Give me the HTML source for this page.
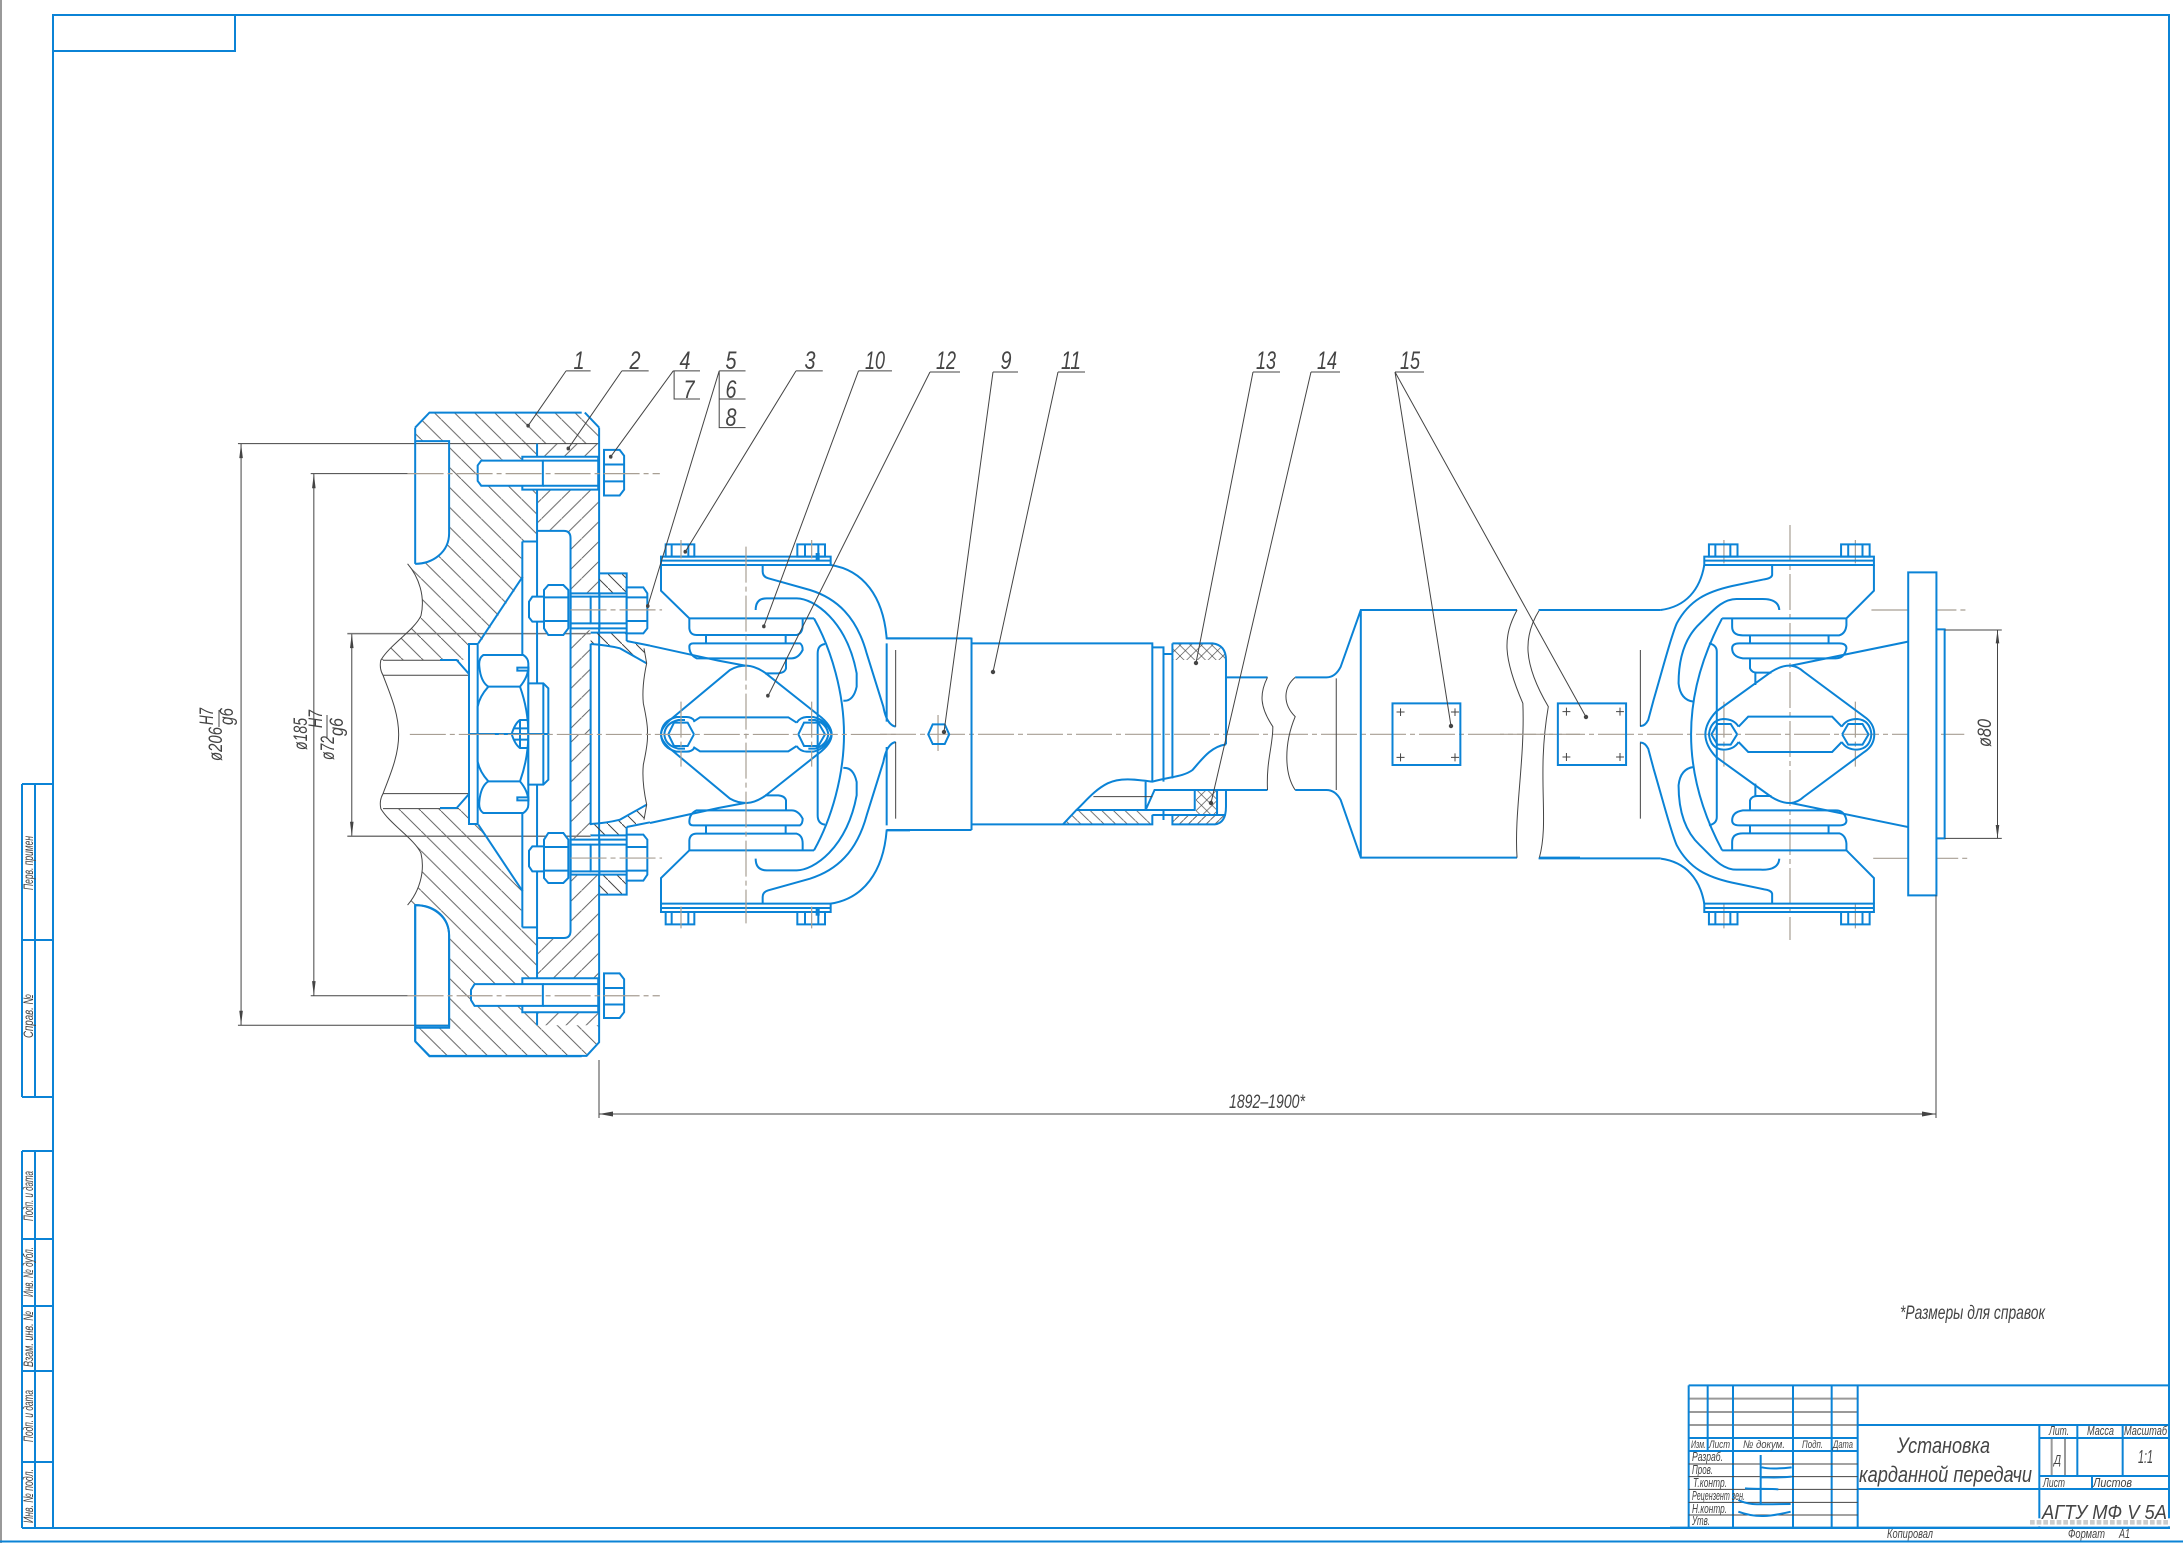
<!DOCTYPE html>
<html><head><meta charset="utf-8"><style>
html,body{margin:0;padding:0;background:#fff}
svg{display:block}
.b{stroke:#0b83d6;stroke-width:2;fill:none;vector-effect:non-scaling-stroke}
.w{stroke:#0b83d6;stroke-width:2;fill:#fff;vector-effect:non-scaling-stroke}
.k{stroke:#444;stroke-width:1;fill:none;vector-effect:non-scaling-stroke}
.g{stroke:#999;stroke-width:2;fill:none;vector-effect:non-scaling-stroke}
.m{stroke:#777;stroke-width:1.6;fill:none;vector-effect:non-scaling-stroke}
.c{stroke:#a89f94;stroke-width:1.2;fill:none;stroke-dasharray:36 4 5 4;vector-effect:non-scaling-stroke}
.d{fill:#444;stroke:none}
text{font-family:"Liberation Sans","Noto Sans CJK JP",sans-serif;font-style:italic;fill:#444}
</style></head><body>
<svg width="2183" height="1543" viewBox="0 0 2183 1543" xmlns="http://www.w3.org/2000/svg">
<defs>
<pattern id="a" width="45" height="41" patternUnits="userSpaceOnUse"><path d="M-4.5,-4.1L49.5,45.1" stroke="#555" stroke-width="2"/></pattern>
<pattern id="b" width="45" height="41" patternUnits="userSpaceOnUse"><path d="M-4.5,45.1L49.5,-4.1" stroke="#555" stroke-width="2"/></pattern>
<pattern id="a3" width="42" height="42" patternUnits="userSpaceOnUse"><path d="M-4,-4L46,46" stroke="#444" stroke-width="3"/></pattern>
<pattern id="b3" width="42" height="42" patternUnits="userSpaceOnUse"><path d="M-4,46L46,-4" stroke="#444" stroke-width="3"/></pattern>
<pattern id="a2" width="26" height="34" patternUnits="userSpaceOnUse"><path d="M-2.6,-3.4L28.6,37.4" stroke="#444" stroke-width="2"/></pattern>
<pattern id="b2" width="20" height="26" patternUnits="userSpaceOnUse"><path d="M-2,28.6L22,-2.6" stroke="#444" stroke-width="2"/></pattern>
<pattern id="x2" width="24" height="32" patternUnits="userSpaceOnUse"><path d="M-2.4,-3.2L26.4,35.2M-2.4,35.2L26.4,-3.2" stroke="#444" stroke-width="1.6"/></pattern>
<path id="pA" d="M482,222 L514,191 H862 L894,222 V255 H755 V285 H722 V350 H755 V455 H722 V535 L625,670 L605,670 V700 L575,702 H406 C425,670 480,640 495,610 C505,570 490,530 465,503 H482 C520,503 558,480 558,440 V250 H482 Z"/>
<path id="pB" d="M755,255 H894 V285 H755 Z M755,345 H894 V565 H830 V450 Q830,435 815,435 H755 Z M830,640 H875 V855 H830 Z"/>
<path id="pW" d="M478,40 H560 V100 H478 Z M452,218 H560 V243 L610,255 L620,310 L540,265 Q500,255 452,252 Z"/>
<g id="h1">
<path class="b" d="M482,222 L514,191 H855 M482,222 V503 M482,250 H558 V440 C558,480 520,503 482,503"/>
<path class="b" d="M755,255 V855 M722,457 H755 M722,457 V855 M815,435 Q830,435 830,450 V855 M755,435 H815 M875,668 V855"/>
<path class="k" d="M465,503 C490,530 505,570 495,610 C480,640 425,670 405,702 C402,715 405,725 410,733 C425,770 445,810 445,855"/>
<path class="k" d="M410,702 H580 M410,733 H604"/>
</g>
<g id="h6">
<path class="b" d="M248,50 L115,250"/>
<path class="w" d="M87,252 H113 V522 H87 Z"/>
<path class="b" d="M0,300 H50 L87,342"/>
<path class="w" d="M113,522 V440 Q118,410 145,380 Q122,365 118,320 Q115,295 130,285 H250 Q265,295 265,310 V522 Z"/>
<path class="b" d="M145,380 H240 Q265,350 265,320 M240,380 Q265,450 265,522"/>
<path class="w" d="M232,323 H265 V332 H232 Z"/>
<path class="w" d="M265,370 H310 L325,385 V522 H265 Z"/>
<path class="b" d="M310,370 V522"/>
<path class="b" d="M265,480 H240 Q225,490 215,522 M222,505 H265 M240,480 V522"/>
<path class="w" d="M392,100 H478 V205 H392 Z"/>
<path class="w" d="M452,110 H560 V190 H452 Z"/>
<path class="b" d="M392,110 H452 M392,190 H452 M478,40 H560 V100 H478 V205 M478,205 H560 M452,218 H560"/>
<path class="w" d="M267,125 L277,110 H312 V185 H277 L267,172 Z"/>
<path class="w" d="M312,90 L325,75 H370 L385,90 V205 L370,225 H325 L312,205 Z"/>
<path class="b" d="M312,112 H385 M312,183 H385"/>
<path class="w" d="M560,82 H610 L622,100 V205 L610,220 H560 Z"/>
<path class="b" d="M560,112 H622 M560,183 H622"/>
<path class="b" d="M452,252 Q500,255 540,265 L620,310 M560,218 V243"/>
<path class="k" d="M612,265 L620,310 Q605,380 610,430 Q625,500 622,522"/>
<path class="b" d="M560,243 L630,257"/>
</g>
<g id="h7">
<path class="b" d="M33,80 H542 V105 H33 Z M33,92 H542"/>
<path class="b" d="M47,43 H133 V80 H47 Z M65,43 V80 M115,43 V80 M442,43 H525 V80 H442 Z M465,43 V80 M505,43 V80"/>
<path class="b" d="M500,72 H506 V88 H500 Z"/>
<path class="b" d="M33,105 V182 L118,265 H492 M118,265 V295 Q120,315 140,315 H440 Q458,310 458,285 V265 M168,315 V340 M407,315 V340 M130,340 H450 Q458,345 458,360 Q445,385 425,385 H140 Q118,375 118,350 Q118,340 130,340 M408,385 V415 Q405,428 385,430 H345"/>
<path class="b" d="M0,347 L205,392 L285,407"/>
<path class="b" d="M33,613 Q33,595 60,570 L240,420 Q262,407 290,407 Q315,408 345,428 L505,555 Q545,585 545,613"/>
<path class="b" d="M55,613 L72,578 H113 L132,613 M445,613 L462,578 H505 L525,613 M130,575 L150,562 H415 L440,578"/>
<path class="b" d="M33,613 Q35,572 80,561 H110 Q125,561 133,572 M43,613 Q45,580 85,570 H105 M440,578 Q450,562 470,561 H490 Q530,570 545,613 M535,613 Q530,580 495,570 H475"/>
<path class="b" d="M492,265 C545,360 582,490 582,613"/>
<path class="b" d="M525,342 Q503,345 503,370 V613"/>
<path class="b" d="M338,105 V125 Q338,140 355,145 L480,180 C560,205 620,260 650,370 L700,530 Q710,585 737,590 M542,105 C640,120 700,200 710,325 H780 M710,340 V575"/>
<path class="b" d="M317,240 Q317,205 350,205 H440 C490,205 590,270 620,430 V470 Q610,515 580,512"/>
<path class="k" d="M737,360 V590"/>
</g>
<g id="h3">
<path class="b" d="M572,110 H1047 V135 H572 Z M572,122 H1047"/>
<path class="b" d="M585,73 H665 V110 H585 Z M603,73 V110 M645,73 V110 M955,73 H1035 V110 H955 Z M975,73 V110 M1015,73 V110"/>
<path class="b" d="M1047,135 V212 L970,295 H622 M650,295 V320 Q650,346 680,346 H950 Q968,340 970,315 V295 M700,346 V370 M920,346 V370 M670,370 H950 Q970,370 970,385 Q965,415 940,415 H680 Q650,410 650,385 Q650,370 670,370 M700,415 V445 Q705,458 720,458 H760 M715,458 V495"/>
<path class="b" d="M622,295 C570,400 535,520 535,643"/>
<path class="b" d="M762,135 V165 Q760,175 740,178 L650,198 C580,215 530,240 495,310 C480,345 460,430 430,540 L415,600 Q405,620 392,618 M572,135 C560,210 520,260 450,270"/>
<path class="b" d="M782,270 Q780,235 730,237 H665 C620,235 590,280 560,310 C520,350 500,410 500,490 Q505,540 542,545"/>
<path class="b" d="M585,370 Q607,375 607,395 V643"/>
<path class="b" d="M575,643 Q575,610 605,575 L760,455 Q790,435 815,437 Q835,440 850,455 L1020,590 Q1048,610 1048,643"/>
<path class="b" d="M815,437 L1142,365"/>
<path class="b" d="M668,620 L695,590 H930 L957,620 M592,643 L609,612 H646 L664,643 M958,643 L975,612 H1015 L1032,643"/>
<path class="b" d="M585,643 Q590,600 625,597 Q655,597 668,620 M957,620 Q970,597 1000,597 Q1036,600 1040,643"/>
<path class="k" d="M393,390 V618"/>
</g>
</defs>

<!-- frames -->
<rect x="0" y="0" width="2" height="1543" fill="#999"/>
<path class="b" d="M53,15 H2169 V1528 H53 Z M53,51 H235 V15 M0,1541.5 H2183"/>
<path class="b" d="M22,784 H53 M22,940 H53 M22,1097 H53 M22,784 V1097 M35,784 V1097"/>
<path class="b" d="M22,1151 H53 M22,1239 H53 M22,1306 H53 M22,1371 H53 M22,1462 H53 M22,1528 H53 M22,1151 V1528 M35,1151 V1528"/>
<g font-size="14">
<text transform="translate(33 863) rotate(-90)" text-anchor="middle" textLength="54" lengthAdjust="spacingAndGlyphs">Перв. примен</text>
<text transform="translate(33 1016) rotate(-90)" text-anchor="middle" textLength="44" lengthAdjust="spacingAndGlyphs">Справ. №</text>
<text transform="translate(33 1196) rotate(-90)" text-anchor="middle" textLength="50" lengthAdjust="spacingAndGlyphs">Подп. и дата</text>
<text transform="translate(33 1272) rotate(-90)" text-anchor="middle" textLength="50" lengthAdjust="spacingAndGlyphs">Инв. № дубл.</text>
<text transform="translate(33 1339) rotate(-90)" text-anchor="middle" textLength="56" lengthAdjust="spacingAndGlyphs">Взам. инв. №</text>
<text transform="translate(33 1416) rotate(-90)" text-anchor="middle" textLength="52" lengthAdjust="spacingAndGlyphs">Подп. и дата</text>
<text transform="translate(33 1496) rotate(-90)" text-anchor="middle" textLength="54" lengthAdjust="spacingAndGlyphs">Инв. № подл.</text>
</g>

<!-- left part -->
<g transform="translate(200 320) scale(.44643 .48473)">
<use href="#pA" fill="url(#a)"/><use href="#pB" fill="url(#b)"/>
<g transform="translate(0 1710) scale(1 -1)"><use href="#pA" fill="url(#b)"/><use href="#pB" fill="url(#a)"/></g>
<path class="k" d="M85,255 H894 M92,255 V1455 M85,1455 H558 M248,317 H465 M255,317 V1394 M248,1394 H465 M340,647 V1065"/>
<path class="m" d="M330,647 H875 M330,1065 H875"/>
<path class="d" d="M92,255 L88,285 H96 Z M92,1455 L88,1425 H96 Z M255,317 L251,347 H259 Z M255,1394 L251,1364 H259 Z M340,647 L336,677 H344 Z M340,1065 L336,1035 H344 Z"/>
<path class="b" d="M894,222 V1490 L866,1518 H514 L482,1488 V1207 C530,1207 558,1235 558,1270 V1456 H482 M862,191 L894,222"/>
<use href="#h1"/>
<g transform="translate(0 1710) scale(1 -1)"><use href="#h1"/></g>
<!-- top bolt -->
<path class="w" d="M722,282 H892 V350 H722 Z"/>
<path class="w" d="M622,300 L630,290 H768 V342 H630 L622,332 Z"/>
<path class="b" d="M768,290 H892 M768,342 H892"/>
<path class="w" d="M905,268 H940 L950,280 V350 L940,362 H905 Z"/>
<path class="b" d="M905,298 H950 M905,333 H950"/>
<!-- bottom bolt -->
<path class="w" d="M722,1358 H892 V1428 H722 Z"/>
<path class="w" d="M607,1382 L615,1370 H768 V1415 H615 L607,1403 Z"/>
<path class="b" d="M768,1370 H892 M768,1415 H892"/>
<path class="w" d="M905,1348 H940 L950,1360 V1428 L940,1440 H905 Z"/>
<path class="b" d="M905,1378 H950 M905,1412 H950"/>
</g>

<g transform="translate(440 560) scale(.33333)">
<use href="#pW" fill="url(#a3)"/>
<g transform="translate(0 1044) scale(1 -1)"><use href="#pW" fill="url(#b3)"/></g>
<use href="#h6"/>
<g transform="translate(0 1044) scale(1 -1)"><use href="#h6"/></g>
</g>

<g transform="translate(650 530) scale(.33333)">
<use href="#h7"/>
<g transform="translate(0 1226) scale(1 -1)"><use href="#h7"/></g>
<path class="c" d="M288,50 V1180 M93,30 V85 M93,515 V710 M93,1130 V1195 M485,30 V85 M485,515 V710 M485,1130 V1195"/>
</g>

<!-- leaders in zoom coordinates -->
<g transform="translate(200 320) scale(.44643 .48473)">
<path class="c" d="M470,855 H1568 M465,317 H1030 M830,598 H1035 M830,1110 H1035 M465,1394 H1030"/>
<path class="k" d="M820,105 H875 M820,105 L735,218 M945,105 H1005 M945,105 L825,265 M1060,105 H1120 M1060,105 L920,282 M1062,105 V163 H1120 M1163,105 H1222 M1163,105 L1003,590 M1163,105 V222 H1222 M1163,163 H1222 M1335,105 H1395 M1335,105 L1087,478 M1475,105 H1550 M1475,105 L1263,632"/>
<ellipse class="d" cx="735" cy="218" rx="4" ry="4"/><ellipse class="d" cx="825" cy="265" rx="4" ry="4"/><ellipse class="d" cx="920" cy="282" rx="4" ry="4"/><ellipse class="d" cx="1003" cy="590" rx="4" ry="4"/><ellipse class="d" cx="1087" cy="478" rx="4" ry="4"/><ellipse class="d" cx="1263" cy="632" rx="4" ry="4"/><ellipse class="d" cx="1272" cy="775" rx="4" ry="4"/>
</g>

<!-- middle -->
<g transform="translate(880 560) scale(.44643 .33333)">
<path fill="url(#a2)" d="M410,793 L440,750 H595 L610,765 H610 V793 Z"/>
<path fill="url(#b2)" d="M655,765 H775 V740 Q775,790 750,793 H655 Z"/>
<path fill="url(#x2)" d="M655,250 H745 Q770,255 775,300 H655 Z M708,690 H755 V765 H708 Z"/>
<path class="c" d="M0,523 H1568 M130,465 V585"/>
<path class="b" d="M15,235 H205 M15,810 H205 M205,233 V810 M205,250 H610 V665 M205,793 H610 V765 M610,262 H635 V665 M635,282 H655 M655,250 V655 M655,250 H745 Q775,255 775,300 V553"/>
<path class="b" d="M108,523 L118,493 H145 L155,523 L145,552 H118 Z"/>
<path class="b" d="M775,553 C740,560 720,600 700,630 C680,650 650,650 610,665 C580,660 540,650 510,670 C480,690 460,725 440,750 L410,793"/>
<path class="b" d="M440,750 H705 V690 M595,665 V750 L615,690 H868 M755,690 V765 M610,765 H775 M635,750 V780 M655,765 V793 H750 Q775,790 775,740 V690 M775,352 H868"/>
<path class="k" d="M478,710 H610"/>
<path class="k" d="M868,352 C850,400 850,440 880,500 C880,560 865,600 868,690 M1022,355 V690 M930,352 C905,380 900,430 930,470 C905,550 905,640 930,690"/>
<path class="b" d="M930,352 H1000 Q1020,352 1032,320 L1077,150 H1427 M930,690 H1000 Q1020,690 1032,720 L1077,893 H1427 M1077,150 V893 M1477,150 H1568 M1477,893 H1568"/>
<path class="k" d="M1427,150 C1395,230 1395,290 1440,430 C1445,600 1420,760 1427,893 M1477,150 C1440,230 1440,310 1497,440 C1470,650 1500,780 1477,893"/>
<path class="b" d="M1148,430 H1300 V615 H1148 Z"/>
<path class="k" d="M1157,456 H1175 M1166,445 V468 M1279,456 H1297 M1288,445 V468 M1157,592 H1175 M1166,580 V604 M1279,592 H1297 M1288,580 V604"/>
</g>

<!-- right joint -->
<g transform="translate(1500 520) scale(.35714 .33333)">
<path class="c" d="M0,643 H1300 M812,15 V1260 M627,60 V130 M627,545 V740 M627,1150 V1225 M995,60 V130 M995,545 V740 M995,1150 V1225 M1040,270 H1310 M1045,1015 H1310"/>
<path class="b" d="M162,550 H353 V735 H162 Z M108,270 H450 M108,1015 H450"/>
<path class="k" d="M175,575 H197 M186,563 V587 M325,575 H347 M336,563 V587 M175,711 H197 M186,699 V723 M325,711 H347 M336,699 V723"/>
<use href="#h3"/>
<g transform="translate(0 1286) scale(1 -1)"><use href="#h3"/></g>
<path class="w" d="M1143,157 H1222 V1126 H1143 Z"/>
<path class="b" d="M1222,328 H1245 V955 H1222"/>
<path class="k" d="M1245,330 H1405 M1245,955 H1405 M1393,330 V955"/>
<path class="d" d="M1393,330 L1388,370 H1398 Z M1393,955 L1388,915 H1398 Z"/>
</g>

<!-- long leaders and dims -->
<path class="k" d="M930,372 H960 M930,372 L768,696 M993,372 H1018 M993,372 L944,732 M1058,372 H1085 M1058,372 L993,672 M1253,372 H1280 M1253,372 L1196,663 M1311,372 H1340 M1311,372 L1211,803 M1395,372 H1424 M1395,372 L1451,726 M1395,372 L1586,717"/>
<circle class="d" cx="944" cy="732" r="2.2"/><circle class="d" cx="993" cy="672" r="2.2"/><circle class="d" cx="1196" cy="663" r="2.2"/><circle class="d" cx="1211" cy="803" r="2.2"/><circle class="d" cx="1451" cy="726" r="2.2"/><circle class="d" cx="1586" cy="717" r="2.2"/>
<path class="k" d="M599,1060 V1118 M1936,895 V1118 M599,1114 H1936"/>
<path class="d" d="M599,1114 L613,1111.5 V1116.5 Z M1936,1114 L1922,1111.5 V1116.5 Z"/>

<!-- balloon numbers -->
<g font-size="25" text-anchor="middle">
<text x="579" y="369" textLength="11" lengthAdjust="spacingAndGlyphs">1</text><text x="635" y="369" textLength="11" lengthAdjust="spacingAndGlyphs">2</text><text x="685" y="369" textLength="11" lengthAdjust="spacingAndGlyphs">4</text><text x="731" y="369" textLength="11" lengthAdjust="spacingAndGlyphs">5</text>
<text x="689" y="398" textLength="11" lengthAdjust="spacingAndGlyphs">7</text><text x="731" y="398" textLength="11" lengthAdjust="spacingAndGlyphs">6</text><text x="731" y="426" textLength="11" lengthAdjust="spacingAndGlyphs">8</text>
<text x="810" y="369" textLength="11" lengthAdjust="spacingAndGlyphs">3</text>
<text x="875" y="369" textLength="20" lengthAdjust="spacingAndGlyphs">10</text>
<text x="946" y="369" textLength="20" lengthAdjust="spacingAndGlyphs">12</text>
<text x="1006" y="369" textLength="11" lengthAdjust="spacingAndGlyphs">9</text>
<text x="1071" y="369" textLength="20" lengthAdjust="spacingAndGlyphs">11</text>
<text x="1266" y="369" textLength="20" lengthAdjust="spacingAndGlyphs">13</text>
<text x="1327" y="369" textLength="20" lengthAdjust="spacingAndGlyphs">14</text>
<text x="1410" y="369" textLength="20" lengthAdjust="spacingAndGlyphs">15</text>
</g>

<!-- dimension text -->
<g font-size="19">
<text transform="translate(222 761) rotate(-90)" textLength="34" lengthAdjust="spacingAndGlyphs">ø206</text>
<text transform="translate(213 725) rotate(-90)" textLength="17" lengthAdjust="spacingAndGlyphs">H7</text>
<text transform="translate(233 725) rotate(-90)" textLength="17" lengthAdjust="spacingAndGlyphs">g6</text>
<text transform="translate(307 750) rotate(-90)" textLength="32" lengthAdjust="spacingAndGlyphs">ø185</text>
<text transform="translate(334 760) rotate(-90)" textLength="24" lengthAdjust="spacingAndGlyphs">ø72</text>
<text transform="translate(322 728) rotate(-90)" textLength="18" lengthAdjust="spacingAndGlyphs">H7</text>
<text transform="translate(343 736) rotate(-90)" textLength="18" lengthAdjust="spacingAndGlyphs">g6</text>
<text transform="translate(1991 747) rotate(-90)" textLength="28" lengthAdjust="spacingAndGlyphs">ø80</text>
<text x="1229" y="1108" textLength="76" lengthAdjust="spacingAndGlyphs">1892–1900*</text>
<text x="1900" y="1319" textLength="145" lengthAdjust="spacingAndGlyphs">*Размеры для справок</text>
</g>
<path class="k" d="M219,710 V727 M327,715 V739"/>

<!-- title block -->
<g transform="translate(1670 1370) scale(.33333)">
<path class="g" d="M56,86 H563 M56,126 H563 M56,165 H563 M1145,204 V318 M1185,204 V318"/>
<path class="b" d="M56,46 H1498 M56,46 V473 M113,46 V243 M189,46 V473 M369,46 V473 M485,46 V473 M563,46 V473 M56,204 H563 M56,243 H563 M563,165 H1498 M563,357 H1498 M1108,165 V473 M1108,204 H1498 M1222,165 V318 M1358,165 V318 M1108,318 H1498 M1266,318 V357 M0,473 H1498"/>
<path class="k" d="M56,282 H563 M56,320 H563 M56,358 H563 M56,397 H563 M56,435 H563"/>
<path class="b" d="M272,255 V405 M205,390 C240,408 270,402 362,402 M275,292 C300,298 330,296 365,292 M275,322 C300,322 330,324 365,320 M225,355 C260,358 300,355 325,358 M205,425 C260,445 300,440 362,425"/>
<rect x="1075" y="445" width="425" height="24" fill="#fff"/>
<path d="M1080,457 H1495" stroke="#ccc" stroke-width="14" stroke-dasharray="14 6" fill="none"/>
</g>
<g font-size="11">
<text x="1691" y="1448" textLength="15" lengthAdjust="spacingAndGlyphs">Изм.</text>
<text x="1709" y="1448" textLength="21" lengthAdjust="spacingAndGlyphs">Лист</text>
<text x="1743" y="1448" textLength="42" lengthAdjust="spacingAndGlyphs">№ докум.</text>
<text x="1802" y="1448" textLength="21" lengthAdjust="spacingAndGlyphs">Подп.</text>
<text x="1833" y="1448" textLength="20" lengthAdjust="spacingAndGlyphs">Дата</text>
</g>
<g font-size="13">
<text x="1692" y="1461" textLength="31" lengthAdjust="spacingAndGlyphs">Разраб.</text>
<text x="1692" y="1474" textLength="21" lengthAdjust="spacingAndGlyphs">Пров.</text>
<text x="1693" y="1487" textLength="34" lengthAdjust="spacingAndGlyphs">Т.контр.</text>
<text x="1692" y="1500" textLength="53" lengthAdjust="spacingAndGlyphs">Рецензент зен.</text>
<text x="1692" y="1513" textLength="35" lengthAdjust="spacingAndGlyphs">Н.контр.</text>
<text x="1692" y="1525" textLength="18" lengthAdjust="spacingAndGlyphs">Утв.</text>
<text x="2049" y="1435" textLength="20" lengthAdjust="spacingAndGlyphs">Лит.</text>
<text x="2087" y="1435" textLength="27" lengthAdjust="spacingAndGlyphs">Масса</text>
<text x="2124" y="1435" textLength="43" lengthAdjust="spacingAndGlyphs">Масштаб</text>
<text x="2054" y="1464" textLength="7" lengthAdjust="spacingAndGlyphs">Д</text>
<text x="2043" y="1487" textLength="22" lengthAdjust="spacingAndGlyphs">Лист</text>
<text x="2093" y="1487" textLength="39" lengthAdjust="spacingAndGlyphs">Листов</text>
<text x="1887" y="1538" textLength="46" lengthAdjust="spacingAndGlyphs">Копировал</text>
<text x="2068" y="1538" textLength="37" lengthAdjust="spacingAndGlyphs">Формат</text>
<text x="2119" y="1538" textLength="11" lengthAdjust="spacingAndGlyphs">А1</text>
</g>
<text x="2138" y="1463" font-size="18" textLength="15" lengthAdjust="spacingAndGlyphs">1:1</text>
<text x="1897" y="1453" font-size="22" textLength="93" lengthAdjust="spacingAndGlyphs">Установка</text>
<text x="1859" y="1482" font-size="22" textLength="173" lengthAdjust="spacingAndGlyphs">карданной передачи</text>
<text x="2042" y="1519" font-size="20" textLength="125" lengthAdjust="spacingAndGlyphs">АГТУ МФ V 5А</text>
</svg>
</body></html>
